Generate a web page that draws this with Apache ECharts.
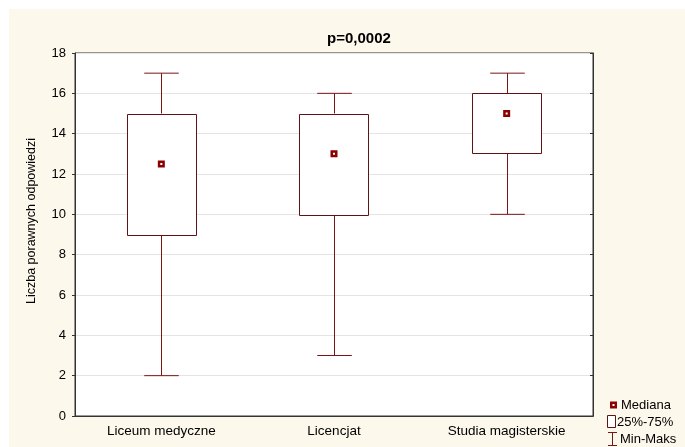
<!DOCTYPE html>
<html>
<head>
<meta charset="utf-8">
<script src="https://cdn.jsdelivr.net/npm/echarts@6/dist/echarts.min.js"></script>
<style>
  html, body { margin: 0; padding: 0; background: #ffffff; }
  #chart { width: 685px; height: 447px; }
</style>
</head>
<body>
<div id="chart"></div>
<script>
// Number of correct answers by education level: min, quartiles, median, max
const categories = ['Liceum medyczne', 'Licencjat', 'Studia magisterskie'];
const minVals = [2, 3, 10];
const q1Vals = [9, 10, 13];
const medianVals = [12.5, 13, 15];
const q3Vals = [15, 15, 16];
const maxVals = [17, 16, 17];
const yTicks = [0, 2, 4, 6, 8, 10, 12, 14, 16, 18];

const FONT = 'Liberation Sans, Arial, sans-serif';
const BOX_COLOR = '#5e1414';
const WHISKER_COLOR = '#7a1515';
const MEDIAN_COLOR = '#8b0000';

const whiskerData = categories.map((c, i) => [i, minVals[i], q1Vals[i], q3Vals[i], maxVals[i]]);
const boxData = categories.map((c, i) => [i, q1Vals[i], q3Vals[i]]);
const medianData = categories.map((c, i) => [i, medianVals[i]]);

const chart = echarts.init(document.getElementById('chart'), null, { renderer: 'canvas' });

function renderWhisker(params, api) {
  const i = api.value(0);
  const band = api.size([1, 0])[0];
  const half = band * 0.1;
  const pMin = api.coord([i, api.value(1)]);
  const pQ1 = api.coord([i, api.value(2)]);
  const pQ3 = api.coord([i, api.value(3)]);
  const pMax = api.coord([i, api.value(4)]);
  const x = Math.round(pMin[0]) + 0.5;
  const style = { stroke: WHISKER_COLOR, lineWidth: 1, fill: null };
  return {
    type: 'group',
    children: [
      { type: 'line', shape: { x1: x, y1: pMax[1], x2: x, y2: pQ3[1] }, style },
      { type: 'line', shape: { x1: x, y1: pQ1[1], x2: x, y2: pMin[1] }, style },
      { type: 'line', shape: { x1: x - half, y1: pMax[1], x2: x + half, y2: pMax[1] }, style },
      { type: 'line', shape: { x1: x - half, y1: pMin[1], x2: x + half, y2: pMin[1] }, style }
    ]
  };
}

function renderBox(params, api) {
  const i = api.value(0);
  const band = api.size([1, 0])[0];
  const w = band * 0.4;
  const pLo = api.coord([i, api.value(1)]);
  const pHi = api.coord([i, api.value(2)]);
  return {
    type: 'rect',
    shape: {
      x: Math.round(pLo[0] - w / 2) + 0.5,
      y: Math.round(pHi[1]) + 0.5,
      width: Math.round(w),
      height: Math.round(pLo[1] - pHi[1])
    },
    style: { fill: '#ffffff', stroke: BOX_COLOR, lineWidth: 1 }
  };
}

const legendText = { fontFamily: FONT, fontSize: 13, fill: '#000' };

const option = {
  backgroundColor: 'transparent',
  animation: false,
  title: {
    text: 'p=0,0002',
    left: 354,
    top: 26,
    textAlign: 'center',
    textStyle: { fontFamily: FONT, fontSize: 15, fontWeight: 'bold', color: '#000' }
  },
  grid: {
    left: 75, right: 92, top: 53, bottom: 31,
    show: true, backgroundColor: '#ffffff', borderColor: '#333', borderWidth: 1
  },
  xAxis: [
    {
      type: 'category', data: categories, position: 'bottom',
      axisLine: { lineStyle: { color: '#333' } },
      axisTick: { inside: true, alignWithLabel: true, length: 4, lineStyle: { color: '#333' } },
      axisLabel: { fontFamily: FONT, fontSize: 13.5, color: '#000', margin: 8 },
      splitLine: { show: false }
    },
    {
      type: 'category', data: categories, position: 'top',
      axisLine: { lineStyle: { color: '#333' } },
      axisTick: { inside: true, alignWithLabel: true, length: 4, lineStyle: { color: '#333' } },
      axisLabel: { show: false },
      splitLine: { show: false }
    }
  ],
  yAxis: [
    {
      type: 'value', min: yTicks[0], max: yTicks[yTicks.length - 1], interval: 2,
      name: 'Liczba porawnych odpowiedzi',
      nameLocation: 'middle', nameGap: 37,
      nameTextStyle: { fontFamily: FONT, fontSize: 12.5, color: '#000', padding: [0, 0, 0, 27] },
      axisLine: { show: true, lineStyle: { color: '#333' } },
      axisTick: { show: true, length: 3, lineStyle: { color: '#333' } },
      axisLabel: { fontFamily: FONT, fontSize: 13, color: '#000', margin: 9 },
      splitLine: { show: true, lineStyle: { color: '#e4e4e4', width: 1 } }
    },
    {
      type: 'value', min: yTicks[0], max: yTicks[yTicks.length - 1], interval: 2,
      position: 'right',
      axisLine: { show: true, lineStyle: { color: '#333' } },
      axisTick: { show: true, inside: true, length: 3, lineStyle: { color: '#333' } },
      axisLabel: { show: false },
      splitLine: { show: false }
    }
  ],
  series: [
    {
      name: 'Min-Maks', type: 'custom', renderItem: renderWhisker,
      encode: { x: 0, y: [1, 2, 3, 4] }, data: whiskerData, z: 2
    },
    {
      name: '25%-75%', type: 'custom', renderItem: renderBox,
      encode: { x: 0, y: [1, 2] }, data: boxData, z: 3
    },
    {
      name: 'Mediana', type: 'scatter', data: medianData, z: 4,
      symbol: 'path://M0,0H7V7H0Z M2.5,2.5V4.5H4.5V2.5Z', symbolSize: 7,
      itemStyle: { color: MEDIAN_COLOR, opacity: 1 }
    }
  ],
  graphic: [
    {
      type: 'rect', left: 9, top: 9, z: -10, silent: true,
      shape: { width: 676, height: 438 },
      style: { fill: '#fdf8ec' }
    },
    {
      type: 'group', silent: true,
      children: [
        { type: 'rect', shape: { x: 610, y: 401.5, width: 7, height: 7 }, style: { fill: MEDIAN_COLOR } },
        { type: 'rect', shape: { x: 612.5, y: 404, width: 2, height: 2 }, style: { fill: '#fff' } },
        { type: 'text', x: 621, y: 405, style: Object.assign({ text: 'Mediana', verticalAlign: 'middle' }, legendText) },
        { type: 'rect', shape: { x: 607.5, y: 415.5, width: 8, height: 12 }, style: { fill: '#fff', stroke: BOX_COLOR, lineWidth: 1 } },
        { type: 'text', x: 617, y: 422, style: Object.assign({ text: '25%-75%', verticalAlign: 'middle' }, legendText) },
        { type: 'line', shape: { x1: 612.5, y1: 432, x2: 612.5, y2: 445 }, style: { stroke: WHISKER_COLOR, lineWidth: 1 } },
        { type: 'line', shape: { x1: 608, y1: 432.5, x2: 617, y2: 432.5 }, style: { stroke: WHISKER_COLOR, lineWidth: 1 } },
        { type: 'line', shape: { x1: 608, y1: 445.5, x2: 617, y2: 445.5 }, style: { stroke: WHISKER_COLOR, lineWidth: 1 } },
        { type: 'text', x: 620, y: 439.5, style: Object.assign({ text: 'Min-Maks', verticalAlign: 'middle' }, legendText) }
      ]
    }
  ]
};

chart.setOption(option);
</script>
</body>
</html>
